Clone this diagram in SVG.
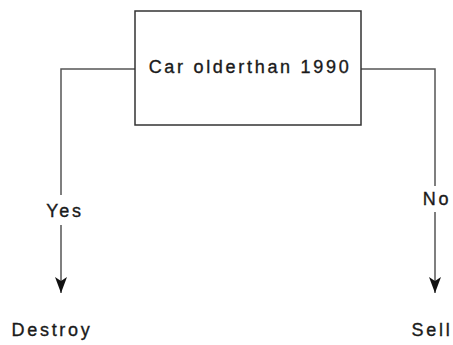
<svg xmlns="http://www.w3.org/2000/svg" width="453" height="345" viewBox="0 0 453 345">
  <style>
    .box { fill: #ffffff; stroke: #333333; stroke-width: 1.5; }
    .edge { fill: none; stroke: #555555; stroke-width: 1.5; }
    .lbl { font-family: "Liberation Sans", Arial, sans-serif; font-size: 18px; fill: #1a1a1a; stroke: #1a1a1a; stroke-width: 0.35; text-anchor: middle; letter-spacing: 2.7px; }
  </style>
  <defs>
    <!-- classic notched arrowhead -->
    <marker id="arrow" viewBox="0 0 16 12" refX="16" refY="6" markerWidth="16" markerHeight="12" markerUnits="userSpaceOnUse" orient="auto">
      <path d="M0,0 L16,6 L0,12 L4,6 z" fill="#111111"/>
    </marker>
  </defs>
  <rect width="453" height="345" fill="#ffffff"/>
  <g id="edges">
    <path class="edge" d="M135,69 H61 V195"/>
    <path class="edge" d="M61,225 V293" marker-end="url(#arrow)"/>
    <path class="edge" d="M361,69 H435 V186"/>
    <path class="edge" d="M435,212 V293" marker-end="url(#arrow)"/>
    <text class="lbl" x="65" y="217">Yes</text>
    <text class="lbl" x="437" y="205">No</text>
  </g>
  <g id="decision">
    <rect class="box" x="135" y="11" width="226" height="114"/>
    <text class="lbl" x="250" y="73">Car olderthan 1990</text>
  </g>
  <g id="destroy">
    <text class="lbl" x="52" y="336">Destroy</text>
  </g>
  <g id="sell">
    <text class="lbl" x="432" y="336">Sell</text>
  </g>
</svg>
